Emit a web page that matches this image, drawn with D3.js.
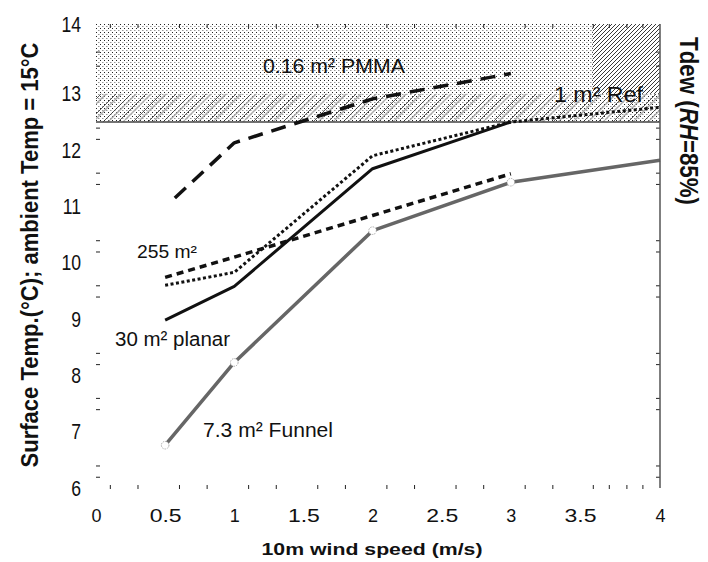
<!DOCTYPE html>
<html>
<head>
<meta charset="utf-8">
<script src="https://cdn.jsdelivr.net/npm/d3@7"></script>
<style>
body { margin: 0; background: #fff; }
text { font-family: "Liberation Sans", Arial, sans-serif; fill: #111; }
</style>
</head>
<body>
<div id="chart"></div>
<script>
// data
var windSpeed = [0.5, 1, 2, 3, 4];
var pmmaX = [0.57, 1, 2, 3];
var pmmaY = [11.15, 12.13, 12.91, 13.36];
var refY = [9.6, 9.83, 11.9, 12.5, 12.76];
var planarY = [8.98, 9.58, 11.67, 12.5];
var m255Y = [9.74, 10.1, 10.84, 11.58];
var funnelY = [6.76, 8.23, 10.57, 11.43, 11.82];

var xTickValues = [0, 0.5, 1, 1.5, 2, 2.5, 3, 3.5, 4];
var xTickLabels = ["0", "0.5", "1", "1.5", "2", "2.5", "3", "3.5", "4"];
var xMinorTicks = [0.1, 0.3, 0.6, 0.8, 1.1, 1.3, 1.6, 1.8, 2.1, 2.3, 2.6, 2.8, 3.1, 3.3, 3.58, 3.68, 3.79, 3.89];
var yTop = 14.24;
var yTickValues = [6, 7, 8, 9, 10, 11, 12, 13, yTop];
var yTickLabels = ["6", "7", "8", "9", "10", "11", "12", "13", "14"];
var yMinorTicks = [6.2, 6.4, 7.4, 7.6, 8.2, 8.4, 9.4, 9.6, 10.2, 10.4, 11.4, 11.6, 12.2, 12.4, 13.5, 13.75];
var tdew = 12.5;

var svgWidth = 708;
var svgHeight = 562;

var svg = d3.select("#chart").append("svg")
    .attr("width", svgWidth)
    .attr("height", svgHeight);

var x = d3.scaleLinear().domain([0, 3.5, 4]).range([96, 580, 660]);
var y = d3.scaleLinear().domain([6, yTop]).range([488, 24]);

// hatch patterns
var defs = svg.append("defs");
var dots = defs.append("pattern").attr("id", "dots")
    .attr("patternUnits", "userSpaceOnUse").attr("width", 4).attr("height", 4);
dots.append("rect").attr("x", 0).attr("y", 0).attr("width", 1).attr("height", 1).attr("fill", "#222");
dots.append("rect").attr("x", 2).attr("y", 2).attr("width", 1.5).attr("height", 1).attr("fill", "#999");

var band = defs.append("pattern").attr("id", "band")
    .attr("patternUnits", "userSpaceOnUse").attr("width", 15).attr("height", 15);
[0, 5].forEach(function(o, i) {
    [-15, 0, 15].forEach(function(s) {
        band.append("line")
            .attr("x1", s + o).attr("y1", 15).attr("x2", s + o + 15).attr("y2", 0)
            .attr("stroke", i == 0 ? "#333" : "#aaa")
            .attr("stroke-width", i == 0 ? 0.8 : 1.3);
    });
});

var dense = defs.append("pattern").attr("id", "dense")
    .attr("patternUnits", "userSpaceOnUse").attr("width", 4).attr("height", 4);
dense.append("rect").attr("width", 4).attr("height", 4).attr("fill", "#fff");
[-4, 0, 4].forEach(function(s) {
    dense.append("line").attr("x1", s).attr("y1", 4).attr("x2", s + 4).attr("y2", 0)
        .attr("stroke", "#222").attr("stroke-width", 0.9);
});

svg.append("rect")
    .attr("x", x(0)).attr("y", y(yTop))
    .attr("width", x(4) - x(0)).attr("height", y(tdew) - y(yTop))
    .attr("fill", "url(#dots)");
svg.append("rect")
    .attr("x", x(0)).attr("y", y(13))
    .attr("width", x(4) - x(0)).attr("height", y(tdew) - y(13))
    .attr("fill", "url(#band)");
svg.append("rect")
    .attr("x", x(3.58)).attr("y", y(yTop))
    .attr("width", x(4) - x(3.58)).attr("height", y(13) - y(yTop))
    .attr("fill", "url(#dense)");

// dew point line
svg.append("line")
    .attr("x1", x(0)).attr("x2", x(4))
    .attr("y1", y(tdew)).attr("y2", y(tdew))
    .attr("stroke", "#444").attr("stroke-width", 1.5);

var line = d3.line()
    .x(function(d) { return x(d[0]); })
    .y(function(d) { return y(d[1]); });

function pts(xs, ys) {
    return ys.map(function(v, i) { return [xs[i], v]; });
}

var series = [
    {data: pts(pmmaX, pmmaY), color: "#111", width: 3.5, dash: "15,9"},
    {data: pts(windSpeed, refY), color: "#111", width: 3, dash: "3,2.5"},
    {data: pts(windSpeed, planarY), color: "#111", width: 3, dash: null},
    {data: pts(windSpeed, m255Y), color: "#111", width: 3.5, dash: "7,5"},
    {data: pts(windSpeed, funnelY), color: "#666", width: 3.5, dash: null}
];

svg.selectAll("path.series")
    .data(series)
    .enter()
    .append("path")
    .attr("class", "series")
    .attr("d", function(s) { return line(s.data); })
    .attr("fill", "none")
    .attr("stroke", function(s) { return s.color; })
    .attr("stroke-width", function(s) { return s.width; })
    .attr("stroke-dasharray", function(s) { return s.dash; })
    .attr("stroke-linejoin", "round");

svg.selectAll("circle.marker")
    .data(pts(windSpeed, funnelY).slice(0, 4))
    .enter()
    .append("circle")
    .attr("class", "marker")
    .attr("cx", function(d) { return x(d[0]); })
    .attr("cy", function(d) { return y(d[1]); })
    .attr("r", 3.8)
    .attr("fill", "#fff")
    .attr("stroke", "#999")
    .attr("stroke-width", 0.8)
    .attr("stroke-dasharray", "1.5,1");

// series labels
var labels = [
    {text: "0.16 m² PMMA", x: 263, y: 73, size: 21, len: 142},
    {text: "1 m² Ref", x: 554, y: 102, size: 22, len: 89},
    {text: "255 m²", x: 137, y: 258, size: 18, len: 60},
    {text: "30 m² planar", x: 115, y: 346, size: 20, len: 115},
    {text: "7.3 m² Funnel", x: 203, y: 437, size: 20, len: 130}
];
svg.selectAll("text.lab")
    .data(labels)
    .enter()
    .append("text")
    .attr("class", "lab")
    .attr("x", function(d) { return d.x; })
    .attr("y", function(d) { return d.y; })
    .attr("font-size", function(d) { return d.size; })
    .attr("textLength", function(d) { return d.len; })
    .attr("lengthAdjust", "spacingAndGlyphs")
    .text(function(d) { return d.text; });

// axes
var bottomAxis = d3.axisBottom(x)
    .tickValues(xTickValues)
    .tickFormat(function(d, i) { return xTickLabels[i]; })
    .tickSize(0).tickPadding(21);
var gx = svg.append("g").attr("transform", "translate(0,488)").call(bottomAxis);
gx.select(".domain").remove();
gx.selectAll("text")
    .attr("font-size", 18)
    .attr("font-family", null)
    .each(function(d, i) {
        if (xTickLabels[i].length > 1) {
            d3.select(this).attr("textLength", 32).attr("lengthAdjust", "spacingAndGlyphs");
        }
    });

var leftAxis = d3.axisLeft(y)
    .tickValues(yTickValues)
    .tickFormat(function(d, i) { return yTickLabels[i]; })
    .tickSize(0).tickPadding(15);
var gy = svg.append("g").attr("transform", "translate(96,0)").call(leftAxis);
gy.select(".domain").remove();
gy.selectAll("text")
    .attr("font-size", 22)
    .attr("font-family", null)
    .each(function() {
        var w = this.getComputedTextLength();
        d3.select(this).attr("textLength", w * 0.8).attr("lengthAdjust", "spacingAndGlyphs");
    });

// minor ticks all round, pointing inward
function minor(g) {
    g.select(".domain").remove();
    g.selectAll("line").attr("stroke", "#222");
}
svg.append("g").attr("transform", "translate(0,489)")
    .call(d3.axisBottom(x).tickValues(xMinorTicks).tickSize(-4).tickFormat(""))
    .call(minor);
svg.append("g").attr("transform", "translate(0," + y(yTop) + ")")
    .call(d3.axisTop(x).tickValues(xMinorTicks).tickSize(-4).tickFormat(""))
    .call(minor);
svg.append("g").attr("transform", "translate(96,0)")
    .call(d3.axisLeft(y).tickValues(yMinorTicks).tickSize(-4).tickFormat(""))
    .call(minor);
svg.append("g").attr("transform", "translate(" + x(4) + ",0)")
    .call(d3.axisRight(y).tickValues(yMinorTicks).tickSize(-4).tickFormat(""))
    .call(minor);

svg.append("line")
    .attr("x1", x(4)).attr("x2", x(4))
    .attr("y1", y(yTop)).attr("y2", y(6))
    .attr("stroke", "#555").attr("stroke-width", 1.5);

// axis titles
svg.append("text")
    .attr("x", 372).attr("y", 555)
    .attr("text-anchor", "middle")
    .attr("font-size", 17).attr("font-weight", "bold")
    .attr("textLength", 221).attr("lengthAdjust", "spacingAndGlyphs")
    .text("10m wind speed (m/s)");

svg.append("text")
    .attr("transform", "translate(38,255)rotate(-90)")
    .attr("text-anchor", "middle")
    .attr("font-size", 23).attr("font-weight", "bold")
    .attr("textLength", 425).attr("lengthAdjust", "spacingAndGlyphs")
    .text("Surface Temp.(°C); ambient Temp = 15°C");

var tdewLabel = svg.append("text")
    .attr("transform", "translate(680,121)rotate(90)")
    .attr("text-anchor", "middle")
    .attr("font-size", 26).attr("font-weight", "bold")
    .attr("textLength", 168).attr("lengthAdjust", "spacingAndGlyphs");
tdewLabel.append("tspan").text("Tdew (");
tdewLabel.append("tspan").attr("font-style", "italic").text("RH");
tdewLabel.append("tspan").text("=85%)");
</script>
</body>
</html>
